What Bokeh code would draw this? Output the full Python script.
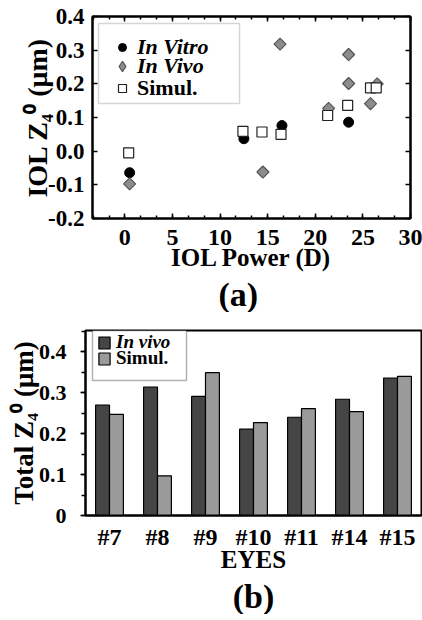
from bokeh.plotting import figure
from bokeh.models import (Range1d, FactorRange, LinearAxis, Legend, LegendItem, Title,
                          BoxAnnotation, CustomJSTickFormatter, ColumnDataSource,
                          SingleIntervalTicker, PrintfTickFormatter)
from bokeh.layouts import column, row
from bokeh.transform import dodge
from bokeh.embed import file_html
from bokeh.resources import INLINE
import math

FONT = "Liberation Serif"

# ---------------- Panel (a) data ----------------
vitro_power = [0.5, 12.5, 16.5, 23.5]
vitro_z40 = [-0.064, 0.037, 0.076, 0.086]
vivo_power = [0.5, 14.5, 16.3, 21.4, 23.5, 23.5, 25.8, 26.5]
vivo_z40 = [-0.097, -0.062, 0.318, 0.127, 0.287, 0.201, 0.141, 0.200]
simul_power = [0.4, 12.4, 14.4, 16.4, 21.3, 23.4, 25.8, 26.4]
simul_z40 = [-0.005, 0.059, 0.057, 0.050, 0.106, 0.136, 0.188, 0.188]

# ---------------- Panel (b) data ----------------
eyes = ["#7", "#8", "#9", "#10", "#11", "#14", "#15"]
invivo_total = [0.270, 0.314, 0.291, 0.211, 0.240, 0.284, 0.336]
simul_total = [0.247, 0.097, 0.349, 0.227, 0.261, 0.254, 0.340]


def style_axis(ax, size="24px"):
    ax.major_label_text_font = FONT
    ax.major_label_text_font_style = "bold"
    ax.major_label_text_font_size = size
    ax.major_label_text_color = "black"
    ax.axis_label_text_font = FONT
    ax.axis_label_text_font_style = "bold"
    ax.axis_label_text_color = "black"
    ax.axis_line_color = "black"
    ax.axis_line_width = 2
    ax.major_tick_line_color = "black"
    ax.major_tick_line_width = 1.5
    ax.minor_tick_line_color = "black"
    ax.minor_tick_line_width = 1.5


def one_legend(label, renderer, x, y, style, size, gw, gh, standoff):
    return Legend(items=[LegendItem(label=label, renderers=[renderer])],
                  location=(x, y), padding=0, margin=0, spacing=0,
                  glyph_width=gw, glyph_height=gh, label_standoff=standoff,
                  border_line_color=None, background_fill_alpha=0,
                  label_text_font=FONT, label_text_font_style=style,
                  label_text_font_size=size, label_text_color="black")


# ======================= Figure (a) =======================
p1 = figure(frame_width=318, frame_height=202,
            x_range=Range1d(-3.4, 30), y_range=Range1d(-0.2, 0.4),
            output_backend="svg", toolbar_location=None,
            min_border_left=92, min_border_right=12, min_border_top=16, min_border_bottom=0)
p1.grid.visible = False
p1.outline_line_color = "black"
p1.outline_line_width = 2

p1.xaxis.ticker = SingleIntervalTicker(interval=5, num_minor_ticks=3)
p1.yaxis.ticker = SingleIntervalTicker(interval=0.1, num_minor_ticks=2)
p1.yaxis.formatter = PrintfTickFormatter(format="%.1f")
for ax in p1.xaxis + p1.yaxis:
    style_axis(ax)
    ax.major_tick_in = 5
    ax.major_tick_out = 0
    ax.minor_tick_in = 3
    ax.minor_tick_out = 0
p1.xaxis.major_label_standoff = 11
p1.yaxis.major_label_standoff = 8
p1.yaxis.major_label_text_font_size = "23px"
p1.yaxis.minor_tick_line_color = None
p1.xaxis.axis_label = "IOL Power (D)"
p1.xaxis.axis_label_text_font_size = "25px"
p1.xaxis.axis_label_standoff = -4
p1.yaxis.axis_label = "IOL Z\u2084\u2070 (\u03bcm)"
p1.yaxis.axis_label_text_font_size = "28px"
p1.yaxis.axis_label_standoff = -8

top_ax = LinearAxis(ticker=SingleIntervalTicker(interval=5, num_minor_ticks=3),
                    formatter=CustomJSTickFormatter(code="return ''"))
right_ax = LinearAxis(ticker=SingleIntervalTicker(interval=0.1, num_minor_ticks=2),
                      formatter=CustomJSTickFormatter(code="return ''"))
for ax in (top_ax, right_ax):
    style_axis(ax)
    ax.major_tick_in = 5
    ax.major_tick_out = 0
    ax.minor_tick_in = 3
    ax.minor_tick_out = 0
    ax.major_label_standoff = 0
right_ax.minor_tick_line_color = None
p1.add_layout(top_ax, "above")
p1.add_layout(right_ax, "right")

vivo_src = ColumnDataSource(dict(x=vivo_power, y=vivo_z40))
r_vitro = p1.scatter(vitro_power, vitro_z40, marker="circle", size=10,
                     fill_color="black", line_color="black")
r_vivo = p1.scatter("x", "y", source=vivo_src, marker="square", size=8.5, angle=math.pi / 4,
                    fill_color="#8c8c8c", line_color="#555555", line_width=1.2)
r_simul = p1.scatter(simul_power, simul_z40, marker="square", size=10,
                     fill_color="white", line_color="#222222", line_width=1.2)
# legend key: same data drawn at zero size (the legend draws its own marker size and
# does not rotate markers, so a diamond marker is used for the key)
r_vivo_key = p1.scatter("x", "y", source=vivo_src, marker="diamond", size=0,
                        fill_color="#8c8c8c", line_color="#555555", line_width=1.2)

p1.add_layout(BoxAnnotation(left=6, right=147, bottom=115, top=195,
                            left_units="screen", right_units="screen",
                            bottom_units="screen", top_units="screen",
                            fill_color="white", fill_alpha=1.0,
                            line_color="#777777", line_width=1.5, level="underlay"))

p1.add_layout(one_legend("In Vitro", r_vitro, 20, 158, "bold italic", "22px", 20, 20, 5))
p1.add_layout(one_legend("In Vivo", r_vivo_key, 17, 139, "bold italic", "22px", 26, 26, 2))
p1.add_layout(one_legend("Simul.", r_simul, 20, 117, "bold", "22px", 20, 20, 5))

cap_a = Title(text="(a)", align="left", offset=126, text_font=FONT, text_font_style="bold",
              text_font_size="34px", text_color="black", standoff=0)
p1.add_layout(cap_a, "below")

# ======================= Figure (b) =======================
src = ColumnDataSource(dict(eye=eyes, invivo=invivo_total, simul=simul_total))
p2 = figure(frame_width=336, frame_height=185,
            x_range=FactorRange(factors=eyes, range_padding=0),
            y_range=Range1d(0, 0.452), output_backend="svg", toolbar_location=None,
            min_border_left=85, min_border_right=1, min_border_top=18, min_border_bottom=0)
p2.grid.visible = False
p2.outline_line_color = "black"
p2.outline_line_width = 2

r_iv = p2.vbar(x=dodge("eye", -0.145, range=p2.x_range), top="invivo", width=0.29, source=src,
               fill_color="#454545", line_color="black", line_width=1.2)
r_si = p2.vbar(x=dodge("eye", 0.145, range=p2.x_range), top="simul", width=0.29, source=src,
               fill_color="#9a9a9a", line_color="black", line_width=1.2)

p2.yaxis.ticker = SingleIntervalTicker(interval=0.1, num_minor_ticks=2)
p2.yaxis.major_label_overrides = {0: "0"}
for ax in p2.xaxis + p2.yaxis:
    style_axis(ax)
p2.yaxis.major_label_text_font_size = "22px"
p2.yaxis.major_tick_out = 5
p2.yaxis.major_tick_in = 0
p2.yaxis.minor_tick_out = 4
p2.yaxis.minor_tick_in = 0
p2.yaxis.major_label_standoff = 14
p2.xaxis.major_tick_line_color = None
p2.xaxis.minor_tick_line_color = None
p2.xaxis.major_label_standoff = 2
p2.xaxis.axis_label = "EYES"
p2.xaxis.axis_label_text_font_size = "25px"
p2.xaxis.axis_label_standoff = -7
p2.yaxis.axis_label = "Total Z\u2084\u2070 (\u03bcm)"
p2.yaxis.axis_label_text_font_size = "27px"
p2.yaxis.axis_label_standoff = -3

p2.add_layout(BoxAnnotation(left=7, right=101, bottom=135, top=185,
                            left_units="screen", right_units="screen",
                            bottom_units="screen", top_units="screen",
                            fill_color="white", fill_alpha=1.0,
                            line_color="black", line_width=1.5, level="underlay"))
p2.add_layout(one_legend("In vivo", r_iv, 12, 162, "bold italic", "19px", 14, 15, 5))
p2.add_layout(one_legend("Simul.", r_si, 12, 146, "bold", "19px", 14, 15, 5))

cap_b = Title(text="(b)", align="center", text_font=FONT, text_font_style="bold",
              text_font_size="34px", text_color="black", standoff=0)
p2.add_layout(cap_b, "below")

# each figure in its own row so that the column does not align their frames
layout = column(row(p1), row(p2), spacing=0)
open("out.html", "w").write(file_html(layout, INLINE))
